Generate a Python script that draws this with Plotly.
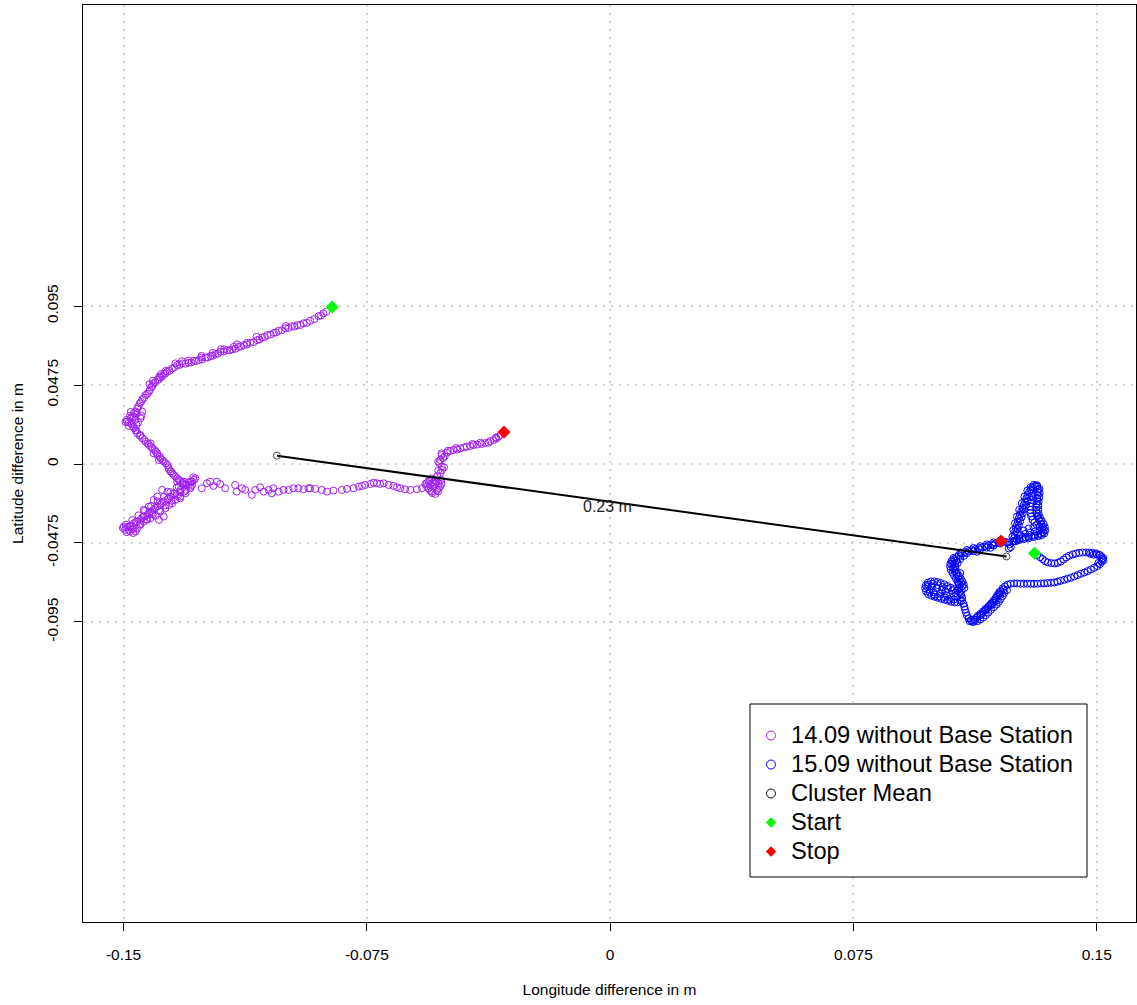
import math
import plotly.graph_objects as go

# ---------------- data (metres) ----------------
track14 = [
    (-0.0875, 0.0915), (-0.0884, 0.0906), (-0.0899, 0.0889), (-0.0925, 0.0861), (-0.0945, 0.0846),
    (-0.0965, 0.0835), (-0.0981, 0.0829), (-0.1001, 0.0816), (-0.1022, 0.0801), (-0.1037, 0.0789),
    (-0.1057, 0.0775), (-0.1073, 0.0761), (-0.1088, 0.0745), (-0.1109, 0.0729), (-0.1130, 0.0715),
    (-0.1145, 0.0705), (-0.1165, 0.0689), (-0.1181, 0.0685), (-0.1201, 0.0675), (-0.1217, 0.0661),
    (-0.1232, 0.0649), (-0.1247, 0.0641), (-0.1268, 0.0625), (-0.1283, 0.0621), (-0.1299, 0.0609),
    (-0.1319, 0.0605), (-0.1335, 0.0595), (-0.1350, 0.0575), (-0.1365, 0.0555), (-0.1376, 0.0541),
    (-0.1386, 0.0521), (-0.1396, 0.0505), (-0.1407, 0.0485), (-0.1415, 0.0461), (-0.1422, 0.0435),
    (-0.1432, 0.0415), (-0.1442, 0.0389), (-0.1450, 0.0365), (-0.1458, 0.0335), (-0.1468, 0.0305),
    (-0.1478, 0.0275), (-0.1489, 0.0254),
    (-0.0891, 0.0893), (-0.0912, 0.0872), (-0.0935, 0.0849), (-0.0955, 0.0836), (-0.0973, 0.0826),
    (-0.0991, 0.0818), (-0.1012, 0.0804), (-0.1030, 0.0791), (-0.1047, 0.0778), (-0.1065, 0.0764),
    (-0.1081, 0.0749), (-0.1099, 0.0733), (-0.1120, 0.0718), (-0.1138, 0.0706), (-0.1155, 0.0693),
    (-0.1173, 0.0683), (-0.1191, 0.0676), (-0.1209, 0.0664), (-0.1225, 0.0651), (-0.1240, 0.0641),
    (-0.1258, 0.0628), (-0.1276, 0.0619), (-0.1291, 0.0611), (-0.1309, 0.0603), (-0.1327, 0.0596),
    (-0.1343, 0.0581), (-0.1358, 0.0561), (-0.1371, 0.0544), (-0.1381, 0.0527), (-0.1391, 0.0509),
    (-0.1402, 0.0491), (-0.1411, 0.0469), (-0.1419, 0.0444), (-0.1427, 0.0421), (-0.1437, 0.0398),
    (-0.1446, 0.0373), (-0.1454, 0.0346), (-0.1463, 0.0316), (-0.1473, 0.0286),
    (-0.1200, 0.0690), (-0.1260, 0.0650), (-0.1320, 0.0618), (-0.1150, 0.0720), (-0.1090, 0.0765),
    (-0.1000, 0.0830), (-0.1385, 0.0540), (-0.1420, 0.0480),
    (-0.1340, 0.0605), (-0.1300, 0.0622), (-0.1260, 0.0640), (-0.1225, 0.0668), (-0.1190, 0.0690),
    (-0.1160, 0.0705), (-0.1120, 0.0728), (-0.1390, 0.0525), (-0.1410, 0.0500), (-0.1370, 0.0560),
    (-0.1478, 0.0313), (-0.1458, 0.0305), (-0.1442, 0.0315), (-0.1468, 0.0284), (-0.1484, 0.0248),
    (-0.1464, 0.0265), (-0.1448, 0.0275), (-0.1494, 0.0253),
    (-0.1490, 0.0265), (-0.1475, 0.0240), (-0.1460, 0.0235), (-0.1470, 0.0225), (-0.1455, 0.0250),
    (-0.1485, 0.0230), (-0.1445, 0.0290), (-0.1480, 0.0290),
    (-0.1468, 0.0215), (-0.1458, 0.0185), (-0.1442, 0.0155), (-0.1432, 0.0134), (-0.1422, 0.0114),
    (-0.1412, 0.0094), (-0.1401, 0.0074), (-0.1396, 0.0054), (-0.1386, 0.0034), (-0.1376, 0.0014),
    (-0.1365, -0.0006), (-0.1360, -0.0032), (-0.1350, -0.0056), (-0.1340, -0.0076), (-0.1330, -0.0096),
    (-0.1319, -0.0116), (-0.1309, -0.0126), (-0.1294, -0.0106), (-0.1283, -0.0096),
    (-0.1417, 0.0124), (-0.1407, 0.0064), (-0.1448, 0.0174), (-0.1463, 0.0204), (-0.1391, 0.0024),
    (-0.1355, -0.0046), (-0.1335, -0.0106),
    (-0.1460, 0.0200), (-0.1450, 0.0170), (-0.1436, 0.0145), (-0.1425, 0.0124), (-0.1415, 0.0104),
    (-0.1404, 0.0084), (-0.1396, 0.0064), (-0.1388, 0.0044), (-0.1380, 0.0024), (-0.1370, 0.0004),
    (-0.1362, -0.0020), (-0.1354, -0.0044), (-0.1345, -0.0066), (-0.1335, -0.0086), (-0.1325, -0.0102),
    (-0.1315, -0.0122), (-0.1300, -0.0110), (-0.1285, -0.0080),
    (-0.1299, -0.0126), (-0.1309, -0.0156), (-0.1325, -0.0166), (-0.1335, -0.0186), (-0.1345, -0.0176),
    (-0.1355, -0.0196), (-0.1365, -0.0216), (-0.1376, -0.0226), (-0.1386, -0.0246), (-0.1396, -0.0256),
    (-0.1407, -0.0276), (-0.1417, -0.0286), (-0.1427, -0.0306), (-0.1438, -0.0316), (-0.1448, -0.0336),
    (-0.1458, -0.0346), (-0.1468, -0.0356), (-0.1478, -0.0372), (-0.1489, -0.0380), (-0.1499, -0.0376),
    (-0.1463, -0.0406), (-0.1473, -0.0392), (-0.1448, -0.0366), (-0.1438, -0.0346), (-0.1417, -0.0326),
    (-0.1401, -0.0312), (-0.1386, -0.0286), (-0.1371, -0.0266), (-0.1360, -0.0246), (-0.1340, -0.0216),
    (-0.1325, -0.0196), (-0.1309, -0.0176), (-0.1294, -0.0146), (-0.1365, -0.0166), (-0.1381, -0.0156),
    (-0.1396, -0.0196), (-0.1407, -0.0216), (-0.1422, -0.0256), (-0.1438, -0.0276), (-0.1391, -0.0336),
    (-0.1376, -0.0316), (-0.1330, -0.0136), (-0.1314, -0.0106), (-0.1289, -0.0126), (-0.1325, -0.0206),
    (-0.1350, -0.0236), (-0.1279, -0.0086), (-0.1289, -0.0106), (-0.1484, -0.0397), (-0.1458, -0.0387),
    (-0.1427, -0.0336), (-0.1412, -0.0296),
    (-0.1293, -0.0137), (-0.1317, -0.0113), (-0.1312, -0.0165), (-0.1336, -0.0141), (-0.1332, -0.0193),
    (-0.1356, -0.0169), (-0.1352, -0.0221), (-0.1375, -0.0197), (-0.1371, -0.0249), (-0.1395, -0.0225),
    (-0.1391, -0.0277), (-0.1415, -0.0253), (-0.1410, -0.0305), (-0.1434, -0.0281), (-0.1430, -0.0333),
    (-0.1454, -0.0309), (-0.1450, -0.0361), (-0.1473, -0.0337), (-0.1469, -0.0389), (-0.1493, -0.0365),
    (-0.1305, -0.0125), (-0.1324, -0.0153), (-0.1344, -0.0181), (-0.1363, -0.0209), (-0.1383, -0.0237),
    (-0.1403, -0.0265), (-0.1422, -0.0293), (-0.1442, -0.0321), (-0.1462, -0.0349), (-0.1481, -0.0377),
    (-0.1495, -0.0395), (-0.1480, -0.0405), (-0.1470, -0.0415), (-0.1490, -0.0410), (-0.1502, -0.0385),
    (-0.1259, -0.0146), (-0.1243, -0.0116), (-0.1233, -0.0106), (-0.1223, -0.0132), (-0.1212, -0.0106),
    (-0.1202, -0.0120), (-0.1187, -0.0146), (-0.1156, -0.0126), (-0.1151, -0.0166), (-0.1135, -0.0146),
    (-0.1125, -0.0156), (-0.1105, -0.0186), (-0.1094, -0.0156), (-0.1079, -0.0140), (-0.1068, -0.0166),
    (-0.1053, -0.0156), (-0.1038, -0.0146), (-0.1043, -0.0176), (-0.1022, -0.0166), (-0.1007, -0.0156),
    (-0.0961, -0.0146), (-0.0945, -0.0152), (-0.0930, -0.0146), (-0.0925, -0.0146), (-0.0889, -0.0156),
    (-0.0853, -0.0160), (-0.0827, -0.0156), (-0.0791, -0.0146), (-0.0775, -0.0136), (-0.0755, -0.0126),
    (-0.0739, -0.0120), (-0.0719, -0.0116), (-0.0698, -0.0116), (-0.0683, -0.0126), (-0.0668, -0.0132),
    (-0.0647, -0.0146), (-0.0632, -0.0152), (-0.0616, -0.0156), (-0.0596, -0.0152), (-0.0580, -0.0146),
    (-0.0565, -0.0116), (-0.0765, -0.0132), (-0.0729, -0.0112), (-0.0709, -0.0120), (-0.0657, -0.0140),
    (-0.0811, -0.0150), (-0.0873, -0.0166), (-0.0909, -0.0150), (-0.0991, -0.0156), (-0.0976, -0.0146),
    (-0.0560, -0.0106), (-0.0550, -0.0086), (-0.0539, -0.0096), (-0.0529, -0.0116), (-0.0545, -0.0136),
    (-0.0534, -0.0156), (-0.0550, -0.0166), (-0.0560, -0.0146), (-0.0524, -0.0136), (-0.0539, -0.0180),
    (-0.0570, -0.0120), (-0.0555, -0.0126), (-0.0533, -0.0072), (-0.0521, -0.0096),
    (-0.0545, -0.0110), (-0.0555, -0.0160), (-0.0530, -0.0165), (-0.0540, -0.0120), (-0.0565, -0.0135),
    (-0.0528, -0.0145), (-0.0548, -0.0175), (-0.0535, -0.0105), (-0.0520, -0.0120), (-0.0558, -0.0098),
    (-0.0524, -0.0056), (-0.0519, -0.0016), (-0.0524, 0.0024), (-0.0519, 0.0054), (-0.0503, 0.0068),
    (-0.0483, 0.0084), (-0.0462, 0.0094), (-0.0442, 0.0104), (-0.0421, 0.0114), (-0.0396, 0.0120),
    (-0.0375, 0.0128), (-0.0360, 0.0144), (-0.0344, 0.0164),
    (-0.0518, -0.0036), (-0.0527, 0.0006), (-0.0515, 0.0036), (-0.0493, 0.0078), (-0.0471, 0.0087),
    (-0.0432, 0.0108), (-0.0410, 0.0117), (-0.0385, 0.0126), (-0.0351, 0.0153), (-0.0338, 0.0174),
    (-0.0530, -0.0040), (-0.0512, -0.0020), (-0.0530, 0.0015), (-0.0510, 0.0045), (-0.0520, 0.0064),
    (-0.0500, 0.0080), (-0.0475, 0.0096), (-0.0450, 0.0100), (-0.0425, 0.0120), (-0.0400, 0.0128),
    (-0.0370, 0.0138), (-0.0352, 0.0160),
]

track15 = [
    (0.1309, -0.0536), (0.1316, -0.0546), (0.1325, -0.0560), (0.1333, -0.0572), (0.1341, -0.0584),
    (0.1349, -0.0592), (0.1360, -0.0596), (0.1370, -0.0598), (0.1380, -0.0594), (0.1389, -0.0586),
    (0.1398, -0.0574), (0.1406, -0.0562), (0.1415, -0.0552), (0.1426, -0.0544), (0.1436, -0.0538),
    (0.1446, -0.0534), (0.1456, -0.0532), (0.1467, -0.0532), (0.1477, -0.0532), (0.1487, -0.0534),
    (0.1498, -0.0538), (0.1507, -0.0546), (0.1514, -0.0558), (0.1517, -0.0572), (0.1515, -0.0588),
    (0.1510, -0.0602), (0.1502, -0.0614), (0.1492, -0.0624), (0.1482, -0.0634), (0.1472, -0.0644),
    (0.1462, -0.0652), (0.1451, -0.0660), (0.1441, -0.0668), (0.1431, -0.0676), (0.1420, -0.0684),
    (0.1410, -0.0690), (0.1400, -0.0696), (0.1389, -0.0702), (0.1379, -0.0708), (0.1369, -0.0712),
    (0.1359, -0.0714), (0.1348, -0.0716), (0.1338, -0.0718), (0.1328, -0.0718), (0.1317, -0.0720),
    (0.1307, -0.0720), (0.1297, -0.0720), (0.1286, -0.0720), (0.1275, -0.0720), (0.1265, -0.0720),
    (0.1255, -0.0718), (0.1245, -0.0718), (0.1234, -0.0720), (0.1225, -0.0726), (0.1217, -0.0736),
    (0.1210, -0.0748), (0.1204, -0.0764), (0.1199, -0.0782), (0.1193, -0.0800), (0.1187, -0.0818),
    (0.1180, -0.0834), (0.1172, -0.0850), (0.1163, -0.0866), (0.1155, -0.0882), (0.1147, -0.0898),
    (0.1139, -0.0912), (0.1130, -0.0924), (0.1121, -0.0934), (0.1112, -0.0938), (0.1105, -0.0928),
    (0.1100, -0.0912), (0.1097, -0.0894), (0.1094, -0.0876), (0.1092, -0.0858), (0.1089, -0.0840),
    (0.1084, -0.0824),
    (0.1510, -0.0548), (0.1520, -0.0565), (0.1520, -0.0580), (0.1505, -0.0595), (0.1500, -0.0545),
    (0.1490, -0.0545), (0.1480, -0.0540),
    (0.1192, -0.0820), (0.1177, -0.0846), (0.1159, -0.0876), (0.1143, -0.0908), (0.1125, -0.0940),
    (0.1115, -0.0948), (0.1203, -0.0786), (0.1213, -0.0756),
    (0.1223, -0.0759), (0.1215, -0.0775), (0.1210, -0.0793), (0.1204, -0.0811), (0.1198, -0.0829),
    (0.1191, -0.0845), (0.1183, -0.0861), (0.1174, -0.0877), (0.1166, -0.0893), (0.1158, -0.0909),
    (0.1150, -0.0923), (0.1141, -0.0935), (0.1132, -0.0945), (0.1120, -0.0950), (0.1108, -0.0945),
    (0.1199, -0.0771), (0.1193, -0.0789), (0.1188, -0.0807), (0.1181, -0.0823), (0.1174, -0.0839),
    (0.1166, -0.0855), (0.1157, -0.0871), (0.1149, -0.0887), (0.1141, -0.0901), (0.1133, -0.0913),
    (0.1082, -0.0788), (0.1071, -0.0760), (0.1061, -0.0752), (0.1050, -0.0744), (0.1040, -0.0734),
    (0.1030, -0.0724), (0.1019, -0.0716), (0.1009, -0.0710), (0.0999, -0.0706), (0.0989, -0.0706),
    (0.0979, -0.0714), (0.0973, -0.0730), (0.0971, -0.0748), (0.0974, -0.0766), (0.0980, -0.0782),
    (0.0990, -0.0792), (0.1000, -0.0798), (0.1010, -0.0804), (0.1020, -0.0810), (0.1031, -0.0816),
    (0.1041, -0.0822), (0.1051, -0.0828), (0.1062, -0.0832), (0.1071, -0.0832), (0.1079, -0.0822),
    (0.1085, -0.0806), (0.1077, -0.0772),
    (0.0992, -0.0736), (0.1007, -0.0746), (0.1023, -0.0756), (0.0997, -0.0772), (0.1017, -0.0780),
    (0.1038, -0.0792), (0.0984, -0.0756), (0.1053, -0.0806), (0.1033, -0.0766),
    (0.0980, -0.0725), (0.0995, -0.0720), (0.1010, -0.0728), (0.1025, -0.0740), (0.1040, -0.0750),
    (0.1055, -0.0760), (0.1065, -0.0775), (0.1060, -0.0815), (0.1045, -0.0812), (0.1030, -0.0800),
    (0.1015, -0.0795), (0.1000, -0.0785), (0.0985, -0.0770), (0.0978, -0.0740), (0.1070, -0.0800),
    (0.1080, -0.0780),
    (0.1084, -0.0756), (0.1085, -0.0736), (0.1082, -0.0716), (0.1078, -0.0698), (0.1073, -0.0680),
    (0.1067, -0.0662), (0.1062, -0.0644), (0.1057, -0.0626), (0.1055, -0.0608), (0.1056, -0.0590),
    (0.1061, -0.0574), (0.1067, -0.0560), (0.1075, -0.0548), (0.1084, -0.0538), (0.1094, -0.0530),
    (0.1105, -0.0524), (0.1115, -0.0518), (0.1125, -0.0512), (0.1136, -0.0506), (0.1146, -0.0502),
    (0.1156, -0.0496), (0.1166, -0.0490), (0.1177, -0.0484), (0.1187, -0.0478), (0.1197, -0.0472),
    (0.1208, -0.0468), (0.1217, -0.0468), (0.1225, -0.0472), (0.1231, -0.0484), (0.1235, -0.0500),
    (0.1229, -0.0508),
    (0.1064, -0.0620), (0.1071, -0.0596), (0.1079, -0.0572), (0.1091, -0.0552), (0.1131, -0.0528),
    (0.1172, -0.0504), (0.1074, -0.0716), (0.1079, -0.0656),
    (0.1092, -0.0746), (0.1090, -0.0726), (0.1086, -0.0707), (0.1081, -0.0689), (0.1075, -0.0671),
    (0.1069, -0.0653), (0.1065, -0.0635), (0.1063, -0.0617), (0.1063, -0.0599), (0.1067, -0.0582),
    (0.1076, -0.0746), (0.1075, -0.0726), (0.1071, -0.0707), (0.1066, -0.0689), (0.1060, -0.0671),
    (0.1055, -0.0653), (0.1050, -0.0635), (0.1048, -0.0617), (0.1049, -0.0599), (0.1053, -0.0582),
    (0.1058, -0.0566),
    (0.1080, -0.0532), (0.1100, -0.0517), (0.1120, -0.0505), (0.1141, -0.0494), (0.1161, -0.0483),
    (0.1182, -0.0471), (0.1202, -0.0460),
    (0.1080, -0.0556), (0.1100, -0.0537), (0.1120, -0.0525), (0.1141, -0.0514), (0.1161, -0.0503),
    (0.1182, -0.0491), (0.1202, -0.0478),
    (0.1242, -0.0466), (0.1245, -0.0446), (0.1247, -0.0426), (0.1249, -0.0406), (0.1251, -0.0386),
    (0.1254, -0.0366), (0.1257, -0.0346), (0.1260, -0.0326), (0.1263, -0.0306), (0.1267, -0.0286),
    (0.1271, -0.0266), (0.1275, -0.0246), (0.1279, -0.0226), (0.1283, -0.0206), (0.1287, -0.0186),
    (0.1292, -0.0168), (0.1297, -0.0152), (0.1303, -0.0138), (0.1311, -0.0130), (0.1317, -0.0136),
    (0.1319, -0.0152), (0.1319, -0.0170), (0.1318, -0.0188), (0.1317, -0.0206), (0.1316, -0.0224),
    (0.1315, -0.0242), (0.1314, -0.0260), (0.1314, -0.0278), (0.1315, -0.0296), (0.1317, -0.0314),
    (0.1321, -0.0330), (0.1325, -0.0346), (0.1329, -0.0362), (0.1333, -0.0378), (0.1336, -0.0394),
    (0.1334, -0.0410), (0.1327, -0.0420), (0.1318, -0.0426), (0.1308, -0.0430), (0.1299, -0.0434),
    (0.1290, -0.0438), (0.1281, -0.0442), (0.1271, -0.0446), (0.1262, -0.0450), (0.1253, -0.0454),
    (0.1245, -0.0462),
    (0.1254, -0.0416), (0.1257, -0.0392), (0.1260, -0.0368), (0.1264, -0.0344), (0.1268, -0.0320),
    (0.1272, -0.0296), (0.1276, -0.0272), (0.1282, -0.0248), (0.1287, -0.0224), (0.1292, -0.0200),
    (0.1298, -0.0176), (0.1304, -0.0156),
    (0.1301, -0.0192), (0.1298, -0.0216), (0.1296, -0.0236), (0.1295, -0.0256), (0.1295, -0.0276),
    (0.1296, -0.0296), (0.1298, -0.0316), (0.1302, -0.0336), (0.1308, -0.0352), (0.1315, -0.0366),
    (0.1324, -0.0378), (0.1330, -0.0392),
    (0.1264, -0.0426), (0.1280, -0.0420), (0.1295, -0.0412), (0.1310, -0.0406), (0.1324, -0.0400),
    (0.1275, -0.0400), (0.1290, -0.0388), (0.1305, -0.0380),
    (0.1323, -0.0150), (0.1324, -0.0175), (0.1323, -0.0200), (0.1321, -0.0225), (0.1320, -0.0250),
    (0.1320, -0.0275), (0.1321, -0.0300), (0.1325, -0.0322), (0.1330, -0.0340), (0.1336, -0.0360),
    (0.1340, -0.0380), (0.1341, -0.0400), (0.1338, -0.0418), (0.1330, -0.0428), (0.1320, -0.0434),
    (0.1305, -0.0440), (0.1290, -0.0446), (0.1275, -0.0452), (0.1260, -0.0458), (0.1250, -0.0465),
    (0.1240, -0.0436), (0.1243, -0.0396), (0.1248, -0.0356), (0.1254, -0.0316), (0.1261, -0.0276),
    (0.1269, -0.0236), (0.1277, -0.0196), (0.1286, -0.0160), (0.1296, -0.0140), (0.1306, -0.0125),
    (0.1316, -0.0128),
]

start_lon = [-0.0857, 0.1308]
start_lat = [0.0944, -0.0537]
stop_lon = [-0.0327, 0.1205]
stop_lat = [0.0192, -0.0463]
mean_lon = [-0.1027, 0.1222]
mean_lat = [0.0050, -0.0556]
label_lon = -0.0008
label_lat = -0.0256

x_ticks = [-0.15, -0.075, 0, 0.075, 0.15]
x_tick_labels = ["-0.15", "-0.075", "0", "0.075", "0.15"]
y_ticks = [-0.095, -0.0475, 0, 0.0475, 0.095]
y_tick_labels = ["-0.095", "-0.0475", "0", "0.0475", "0.095"]

series_names = ["14.09 without Base Station", "15.09 without Base Station",
                "Cluster Mean", "Start", "Stop"]

lon14 = [p[0] for p in track14]
lat14 = [p[1] for p in track14]
lon15 = [p[0] for p in track15]
lat15 = [p[1] for p in track15]

PURPLE = "#A020F0"
BLUE = "#0000FF"
FONT = "Arial, Liberation Sans, sans-serif"

fig = go.Figure()
fig.add_trace(go.Scatter(x=lon14, y=lat14, mode="markers", showlegend=False,
                         marker=dict(symbol="circle-open", size=7, color=PURPLE,
                                     line=dict(width=1, color=PURPLE))))
fig.add_trace(go.Scatter(x=lon15, y=lat15, mode="markers", showlegend=False,
                         marker=dict(symbol="circle-open", size=7, color=BLUE,
                                     line=dict(width=1, color=BLUE))))
fig.add_trace(go.Scatter(x=mean_lon, y=mean_lat, mode="lines+markers", showlegend=False,
                         line=dict(color="black", width=2),
                         marker=dict(symbol="circle-open", size=7, color="#444444",
                                     line=dict(width=1, color="#444444"))))
fig.add_trace(go.Scatter(x=start_lon, y=start_lat, mode="markers", showlegend=False,
                         marker=dict(symbol="diamond", size=10, color="#00FF00")))
fig.add_trace(go.Scatter(x=stop_lon, y=stop_lat, mode="markers", showlegend=False,
                         marker=dict(symbol="diamond", size=10, color="#FF0000")))

# legend entries
leg_styles = [
    dict(symbol="circle-open", size=9, color=PURPLE, line=dict(width=1, color=PURPLE)),
    dict(symbol="circle-open", size=9, color=BLUE, line=dict(width=1, color=BLUE)),
    dict(symbol="circle-open", size=9, color="black", line=dict(width=1, color="black")),
    dict(symbol="diamond", size=8, color="#00FF00"),
    dict(symbol="diamond", size=8, color="#FF0000"),
]
for name, st in zip(series_names, leg_styles):
    fig.add_trace(go.Scatter(x=[None], y=[None], mode="markers",
                             name=f'<span style="font-size:23.7px">{name}</span>', marker=st))

dist = math.hypot(mean_lon[1] - mean_lon[0], mean_lat[1] - mean_lat[0])
fig.add_annotation(x=label_lon, y=label_lat, text=f"{dist:.2f} m", showarrow=False,
                   font=dict(family=FONT, size=16, color="#222222"))

W, H = 1137, 1005
L, R, T, B = 83, 1, 5, 83
pw, ph = W - L - R, H - T - B


def px2paper_x(px):
    return (px - L) / pw


def px2paper_y(py):
    return (H - B - py) / ph


fig.add_shape(type="rect", xref="paper", yref="paper",
              x0=px2paper_x(750), x1=px2paper_x(1087), y0=px2paper_y(877), y1=px2paper_y(704),
              line=dict(color="black", width=1), fillcolor="white", layer="above")

axis_common = dict(
    showline=True, mirror=True, linecolor="black", linewidth=1,
    ticks="outside", ticklen=8, tickcolor="black", tickwidth=1, ticklabelstandoff=10,
    showgrid=True, gridcolor="#d3d3d3", gridwidth=2, griddash="2px,6px",
    zeroline=False, tickfont=dict(family=FONT, size=15.5, color="black"),
)

fig.update_xaxes(range=[-0.1625, 0.1621], tickvals=x_ticks, ticktext=x_tick_labels,
                 title=dict(text="Longitude difference in m", standoff=22,
                            font=dict(family=FONT, size=15.5, color="black")),
                 **axis_common)
fig.update_yaxes(range=[-0.2754, 0.2760], tickvals=y_ticks, ticktext=y_tick_labels,
                 tickangle=-90,
                 title=dict(text="Latitude difference in m", standoff=16,
                            font=dict(family=FONT, size=15.5, color="black")),
                 **axis_common)

fig.update_layout(
    width=W, height=H,
    margin=dict(l=L, r=R, t=T, b=B, pad=0),
    plot_bgcolor="white", paper_bgcolor="white",
    font=dict(family=FONT, color="black"),
    showlegend=True,
    legend=dict(x=px2paper_x(751), y=px2paper_y(716), xanchor="left", yanchor="top",
                bgcolor="rgba(0,0,0,0)", borderwidth=0,
                font=dict(family=FONT, size=20, color="black"),
                itemsizing="trace", tracegroupgap=0),
)

fig.write_html("out.html")
